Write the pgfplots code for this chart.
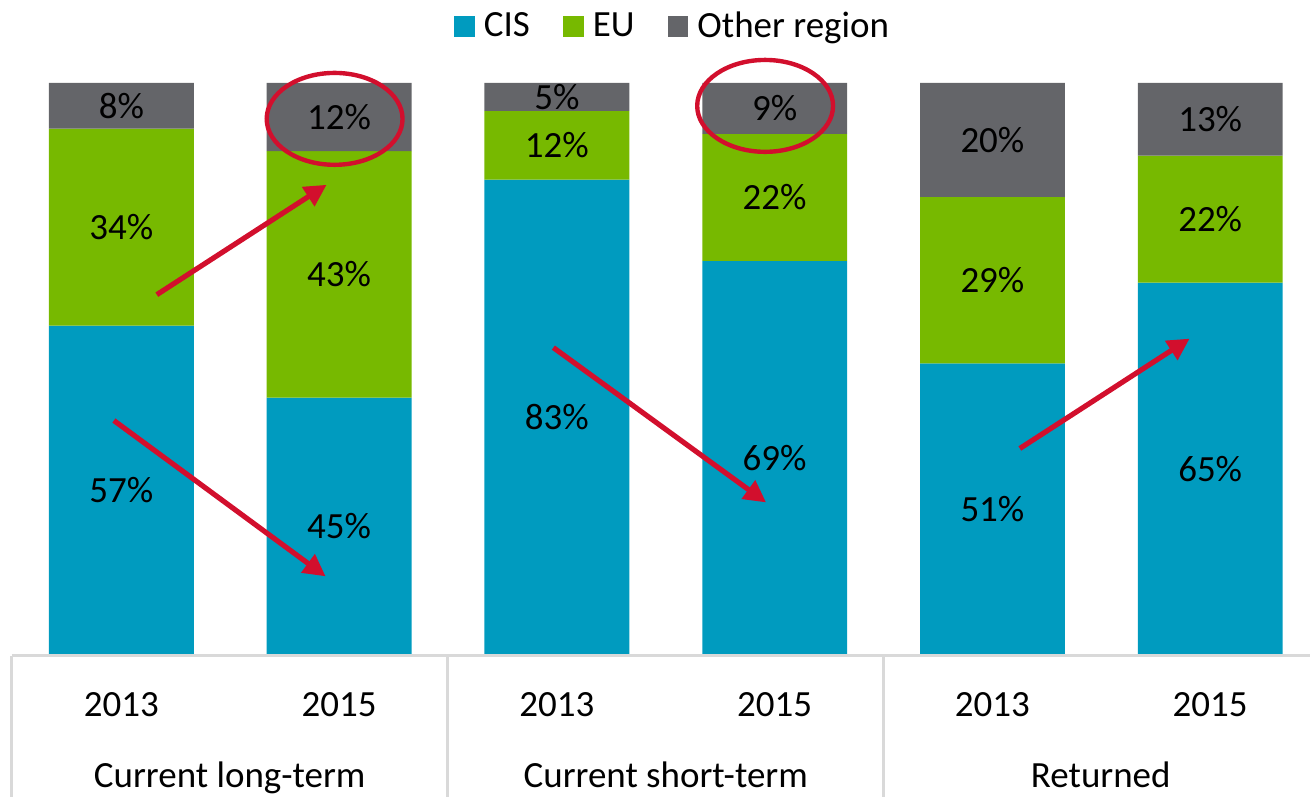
\documentclass[border=0pt]{standalone}
\usepackage{pgfplots}
\pgfplotsset{compat=1.18}
\usepackage{fontspec}
\setmainfont{Carlito}
\usetikzlibrary{arrows.meta}
\definecolor{cis}{HTML}{009BBF}
\definecolor{eu}{HTML}{77B900}
\definecolor{oth}{HTML}{646569}
\definecolor{redc}{HTML}{D20F2D}
\definecolor{gridc}{HTML}{D9D9D9}
\pgfplotstableread{
x cis eu oth
0 57.6 34.4 8.0
1 45.0 43.1 11.9
2 83.1 12.0 4.9
3 68.9 22.2 8.9
4 51.0 29.1 19.9
5 65.1 22.2 12.7
}\datatable
\begin{document}
\begin{tikzpicture}[font=\fontsize{18.5pt}{22pt}\selectfont]
\begin{axis}[
  scale only axis, width=649.5pt, height=286.5pt,
  xmin=-0.5023, xmax=5.456, ymin=0, ymax=100,
  hide axis, clip=false,
  ybar stacked, bar width=0.665, reverse stacked plots=false,
  legend columns=-1,
  legend style={draw=none, fill=none, at={(0.509,1.0986)}, anchor=center,
    /tikz/every odd column/.append style={column sep=3.5pt},
    /tikz/every even column/.append style={column sep=15.5pt},
    nodes={inner sep=1pt, font=\fontsize{18.5pt}{22pt}\selectfont}},
]
\addplot[fill=cis, draw=none, legend image code/.code={\fill[cis] (0pt,-5.25pt) rectangle (10.5pt,5.25pt);}] table[x=x, y=cis] {\datatable};
\addplot[fill=eu, draw=none, legend image code/.code={\fill[eu] (0pt,-5.25pt) rectangle (10.5pt,5.25pt);}] table[x=x, y=eu] {\datatable};
\addplot[fill=oth, draw=none, legend image code/.code={\fill[oth] (0pt,-5.25pt) rectangle (10.5pt,5.25pt);}] table[x=x, y=oth] {\datatable};
\legend{CIS, EU, Other region}
\end{axis}
% value labels drawn on top
\begin{axis}[
  scale only axis, width=649.5pt, height=286.5pt,
  xmin=-0.5023, xmax=5.456, ymin=0, ymax=100,
  hide axis, clip=false,
  every node/.append style={yshift=-1.3pt},
]
\node at (axis cs:0,28.8) {57\%};
\node at (axis cs:0,74.8) {34\%};
\node at (axis cs:0,96.0) {8\%};
\node at (axis cs:1,22.5) {45\%};
\node at (axis cs:1,66.55) {43\%};
\node at (axis cs:1,94.05) {12\%};
\node at (axis cs:2,41.55) {83\%};
\node at (axis cs:2,89.1) {12\%};
\node at (axis cs:2,97.55) {5\%};
\node at (axis cs:3,34.45) {69\%};
\node at (axis cs:3,80.0) {22\%};
\node at (axis cs:3,95.55) {9\%};
\node at (axis cs:4,25.5) {51\%};
\node at (axis cs:4,65.55) {29\%};
\node at (axis cs:4,90.05) {20\%};
\node at (axis cs:5,32.55) {65\%};
\node at (axis cs:5,76.2) {22\%};
\node at (axis cs:5,93.65) {13\%};
\end{axis}
% table and annotations in pixel units, origin at axis lower-left (pixel 12,656)
\begin{scope}[shift={(current axis.south west)}, x=0.5pt, y=-0.5pt]
  \path (-12,-656) rectangle (1299,142);
  \draw[gridc, line width=1.5pt] (0,0.5) -- (1299,0.5);
  \draw[gridc, line width=1.5pt] (0,0.5) -- (0,142);
  \draw[gridc, line width=1.5pt] (436.5,0.5) -- (436.5,142);
  \draw[gridc, line width=1.5pt] (873,0.5) -- (873,142);
  \foreach \xx in {109.5, 545.5, 981.5} {\node[anchor=base] at (\xx,61) {2013};}
  \foreach \xx in {327.5, 763.5, 1199.5} {\node[anchor=base] at (\xx,61) {2015};}
  \node[anchor=base] at (218,132) {Current long-term};
  \node[anchor=base] at (654.5,132) {Current short-term};
  \node[anchor=base] at (1090,132) {Returned};
  \begin{scope}[redc, line width=2.6pt, -{Triangle[length=11pt,width=11pt]}]
    \draw (145,-361) -- (315,-471);
    \draw (102,-235) -- (314,-79);
    \draw (542,-308) -- (755,-153);
    \draw (1009,-207) -- (1179,-317);
  \end{scope}
  \draw[redc, line width=2.2pt] (323,-537) ellipse [x radius=68, y radius=46];
  \draw[redc, line width=2.2pt] (754,-550) ellipse [x radius=68, y radius=46];
\end{scope}
\end{tikzpicture}
\end{document}
